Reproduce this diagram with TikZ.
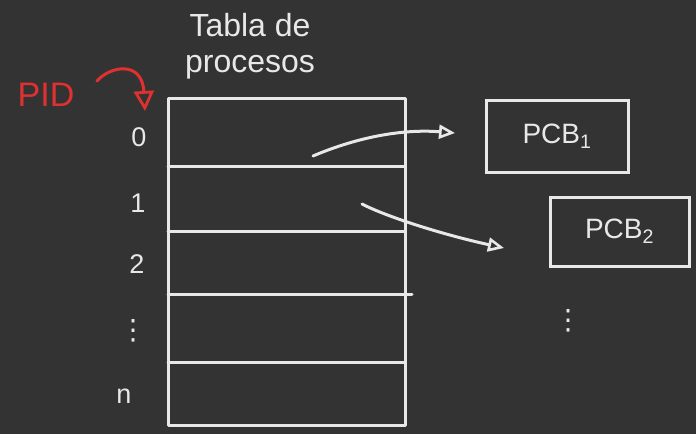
\documentclass[tikz,border=0pt]{standalone}
\usepackage{fontspec}
\setmainfont{Liberation Sans}
\newfontfamily\symfont{DejaVu Sans}
\usetikzlibrary{arrows.meta}
\definecolor{bg}{HTML}{333333}
\definecolor{ink}{HTML}{E8E8E8}
\definecolor{redink}{HTML}{E03131}
\tikzset{
  stroke/.style={draw=ink, line width=3pt, line cap=round, line join=round},
  lbl/.style={text=ink, font=\fontsize{27}{29}\selectfont, inner sep=0pt},
  pcbbox/.style={draw=ink, line width=3pt, minimum width=142pt, minimum height=72pt, inner sep=0pt, text=ink, font=\fontsize{28}{30}\selectfont},
  ptr/.style={stroke, -{Triangle[open, length=16pt, width=14pt, line width=2.6pt]}},
}
\begin{document}
\begin{tikzpicture}[x=1pt, y=-1pt]
  \fill[bg] (0,0) rectangle (696,434);
  \useasboundingbox (0,0) rectangle (696,434);

  % title
  \node[text=ink, font=\fontsize{32}{36}\selectfont, align=center, inner sep=0pt] (title) at (250,46) {Tabla de\\procesos};

  % table
  \coordinate (tl) at (168,98);
  \coordinate (br) at (405,425);
  \draw[stroke] (tl) rectangle (br);
  \draw[stroke] (168,166) -- (405,166);
  \draw[stroke] (168,231) -- (405,231);
  \draw[stroke] (168,294) -- (412,294);
  \draw[stroke] (168,362) -- (405,362);

  % index labels
  \node[lbl] (i0) at (139,137) {0};
  \node[lbl] (i1) at (138,203) {1};
  \node[lbl] (i2) at (137,264) {2};
  \node[text=ink, font=\symfont\fontsize{28}{30}\selectfont, inner sep=0pt] (idots) at (133,331) {⋮};
  \node[lbl] (in) at (124,396) {n};

  % PID
  \node[text=redink, font=\fontsize{34}{36}\selectfont, inner sep=0pt] (pid) at (46,95) {PID};
  \coordinate (pidend) at (145,111);
  \draw[draw=redink, line width=3pt, line cap=round, -{Triangle[open, length=20pt, width=20pt, line width=2.8pt]}]
    (97,81) .. controls (110,66) and (142,60) .. (pidend);

  % PCB boxes
  \node[pcbbox] (pcb1) at (557,136) {PCB\textsubscript{1}};
  \node[pcbbox, minimum width=139pt, minimum height=69pt] (pcb2) at (619.5,231.5) {PCB\textsubscript{2}};
  \node[text=ink, font=\symfont\fontsize{28}{30}\selectfont, inner sep=0pt] (pdots) at (568,321) {⋮};

  % pointers
  \coordinate (s0) at (313,156);
  \coordinate (e0) at (455,133);
  \coordinate (s1) at (362,204);
  \coordinate (e1) at (504,248);
  \draw[ptr] (s0) .. controls (360,136) and (405,129) .. (e0);
  \draw[ptr] (s1) .. controls (385,216) and (440,234) .. (e1);
\end{tikzpicture}
\end{document}
